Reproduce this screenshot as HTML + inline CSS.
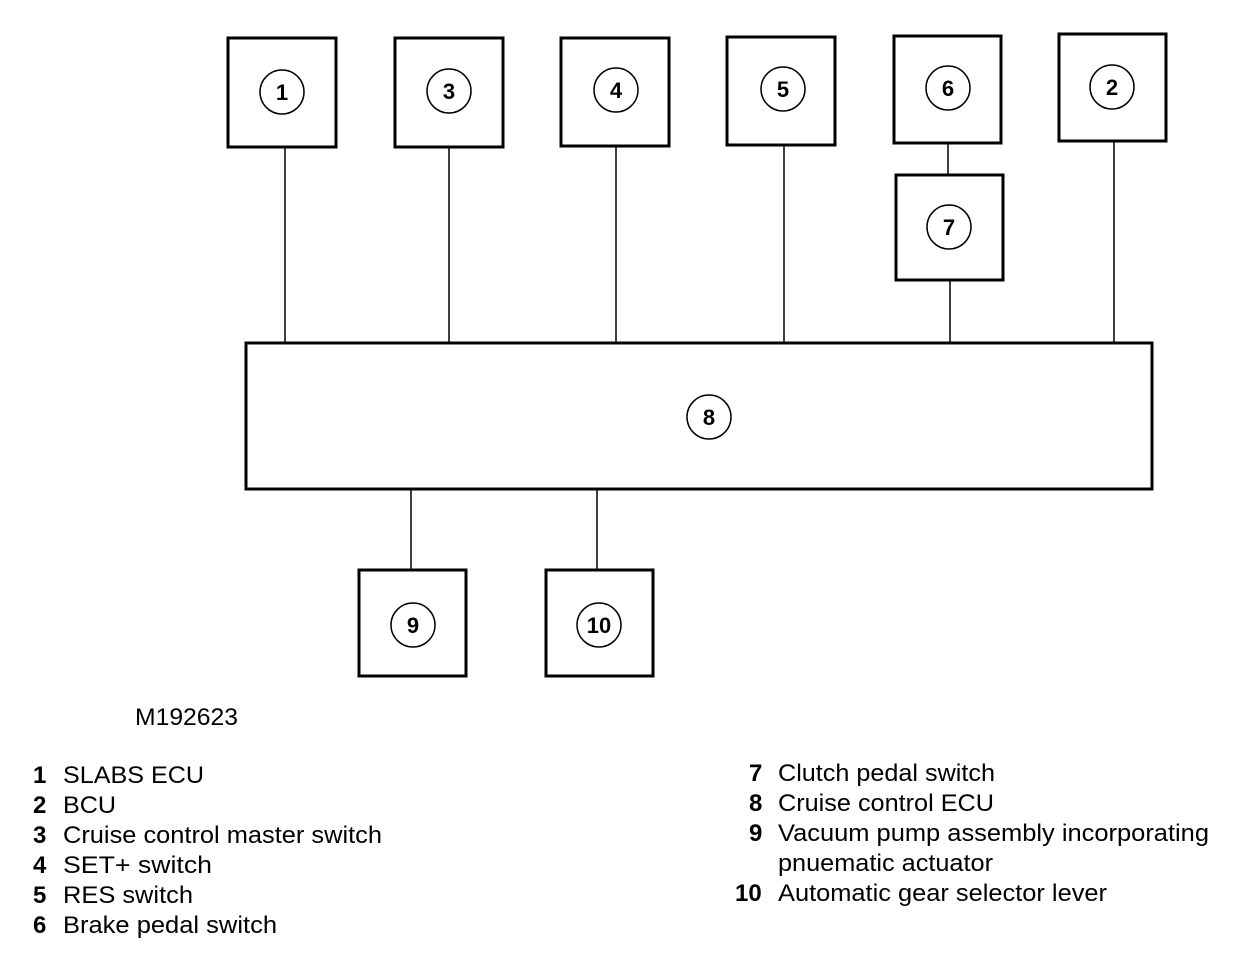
<!DOCTYPE html>
<html><head><style>html,body{margin:0;padding:0;background:#fff}svg{display:block}</style></head>
<body>
<svg width="1248" height="972" xmlns="http://www.w3.org/2000/svg" font-family="Liberation Sans, Arial, sans-serif">
<g fill="none" stroke="#000" stroke-width="3">
<rect x="228" y="38" width="108" height="109"/>
<rect x="395" y="38" width="108" height="109"/>
<rect x="561" y="38" width="108" height="108"/>
<rect x="727" y="37" width="108" height="108"/>
<rect x="894" y="36" width="107" height="107"/>
<rect x="1059" y="34" width="107" height="107"/>
<rect x="896" y="175" width="107" height="105"/>
<rect x="246" y="343" width="906" height="146"/>
<rect x="359" y="570" width="107" height="106"/>
<rect x="546" y="570" width="107" height="106"/>
</g>
<g stroke="#000" stroke-width="1.5">
<line x1="285" y1="148" x2="285" y2="343"/>
<line x1="449" y1="148" x2="449" y2="343"/>
<line x1="616" y1="147" x2="616" y2="343"/>
<line x1="784" y1="146" x2="784" y2="343"/>
<line x1="948" y1="144" x2="948" y2="175"/>
<line x1="950" y1="281" x2="950" y2="343"/>
<line x1="1114" y1="142" x2="1114" y2="343"/>
<line x1="411" y1="489" x2="411" y2="570"/>
<line x1="597" y1="489" x2="597" y2="570"/>
</g>
<g fill="none" stroke="#000" stroke-width="1.5">
<circle cx="282" cy="92" r="22"/>
<circle cx="449" cy="91" r="22"/>
<circle cx="616" cy="90" r="22"/>
<circle cx="783" cy="89" r="22"/>
<circle cx="948" cy="88" r="22"/>
<circle cx="1112" cy="87" r="22"/>
<circle cx="949" cy="227" r="22"/>
<circle cx="709" cy="417" r="22"/>
<circle cx="413" cy="625" r="22"/>
<circle cx="599" cy="625" r="22"/>
</g>
<g font-size="22" font-weight="bold" text-anchor="middle">
<text x="282" y="100">1</text>
<text x="449" y="99">3</text>
<text x="616" y="98">4</text>
<text x="783" y="97">5</text>
<text x="948" y="96">6</text>
<text x="1112" y="95">2</text>
<text x="949" y="235">7</text>
<text x="709" y="425">8</text>
<text x="413" y="633">9</text>
<text x="599" y="633">10</text>
</g>
<g font-size="24" lengthAdjust="spacingAndGlyphs">
<text x="135" y="725" textLength="103" lengthAdjust="spacingAndGlyphs">M192623</text>
<g font-weight="bold"><text x="33" y="783">1</text><text x="33" y="813">2</text><text x="33" y="843">3</text><text x="33" y="873">4</text><text x="33" y="903">5</text><text x="33" y="933">6</text>
<text x="749" y="781">7</text><text x="749" y="811">8</text><text x="749" y="841">9</text><text x="735" y="901">10</text></g>
<text x="63" y="783" textLength="141" lengthAdjust="spacingAndGlyphs">SLABS ECU</text>
<text x="63" y="813" textLength="53" lengthAdjust="spacingAndGlyphs">BCU</text>
<text x="63" y="843" textLength="319" lengthAdjust="spacingAndGlyphs">Cruise control master switch</text>
<text x="63" y="873" textLength="149" lengthAdjust="spacingAndGlyphs">SET+  switch</text>
<text x="63" y="903" textLength="130" lengthAdjust="spacingAndGlyphs">RES switch</text>
<text x="63" y="933" textLength="214" lengthAdjust="spacingAndGlyphs">Brake pedal switch</text>
<text x="778" y="781" textLength="217" lengthAdjust="spacingAndGlyphs">Clutch pedal switch</text>
<text x="778" y="811" textLength="216" lengthAdjust="spacingAndGlyphs">Cruise control ECU</text>
<text x="778" y="841" textLength="431" lengthAdjust="spacingAndGlyphs">Vacuum pump assembly incorporating</text>
<text x="778" y="871" textLength="215" lengthAdjust="spacingAndGlyphs">pnuematic actuator</text>
<text x="778" y="901" textLength="329" lengthAdjust="spacingAndGlyphs">Automatic gear selector lever</text>
</g>
</svg>
</body></html>
